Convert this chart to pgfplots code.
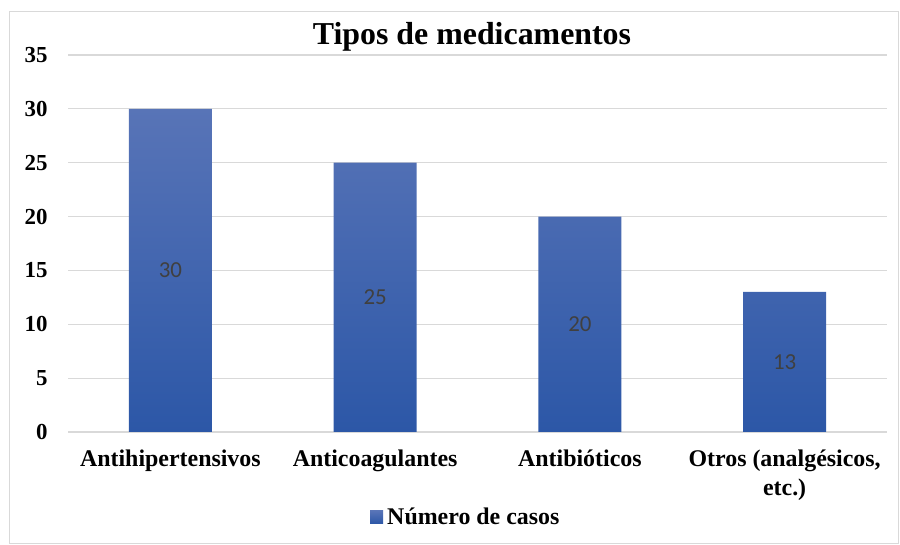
\documentclass[border=0pt]{standalone}
\usepackage{pgfplots}
\pgfplotsset{compat=1.18}
\usepackage{fontspec}
\setmainfont{Liberation Serif}
\newfontfamily\carlito{Carlito}
\definecolor{bartop}{HTML}{5874B7}
\definecolor{barbot}{HTML}{2C57A7}
\definecolor{gridc}{HTML}{D9D9D9}
\definecolor{lbl}{HTML}{404040}
\begin{document}
\begin{tikzpicture}[x=1bp,y=1bp]
\useasboundingbox (0,0) rectangle (900,545);
\draw[gridc, line width=1bp] (9,1) rectangle (898,533);
\node[font=\fontsize{32}{36}\selectfont\bfseries] at (472,508) {Tipos de medicamentos};
\begin{axis}[
  at={(68bp,113bp)}, anchor=south west,
  scale only axis, width=819bp, height=377bp,
  xmin=-0.5, xmax=3.5, ymin=0, ymax=35,
  ytick={0,5,...,35},
  xtick={0,1,2,3},
  xticklabels={Antihipertensivos,Anticoagulantes,Antibióticos,{Otros (analgésicos,\\etc.)}},
  xticklabel style={align=center, font=\fontsize{24}{29}\selectfont\bfseries, yshift=-14bp},
  yticklabel style={font=\fontsize{23}{26}\selectfont\bfseries, xshift=-17bp},
  /pgf/number format/assume math mode=true,
  major tick length=0pt,
  axis line style={draw=none},
  ymajorgrids, grid style={gridc, line width=1.2bp},
  extra y ticks={0}, extra y tick labels={},
  extra y tick style={grid style={gridc,line width=2bp}},
  bar width=0.405,
  legend style={at={(0.487,-0.225)}, anchor=center, draw=none, font=\fontsize{24}{28}\selectfont\bfseries, inner sep=0pt,
    nodes={inner xsep=4bp}},
  legend image code/.code={\fill[barbot] (0bp,-7bp) rectangle (13bp,6bp);},
]
\addplot[ybar, draw=none, top color=bartop, bottom color=barbot] coordinates {(0,30) (1,25) (2,20) (3,13)};
\addlegendentry{Número de casos}
\addplot[draw=none, mark=none, nodes near coords, point meta=explicit,
  every node near coord/.style={anchor=center, font=\carlito\fontsize{23}{26}\selectfont, text=lbl}, forget plot]
  coordinates {(0,15) [30] (1,12.5) [25] (2,10) [20] (3,6.5) [13]};
\end{axis}
\end{tikzpicture}
\end{document}
